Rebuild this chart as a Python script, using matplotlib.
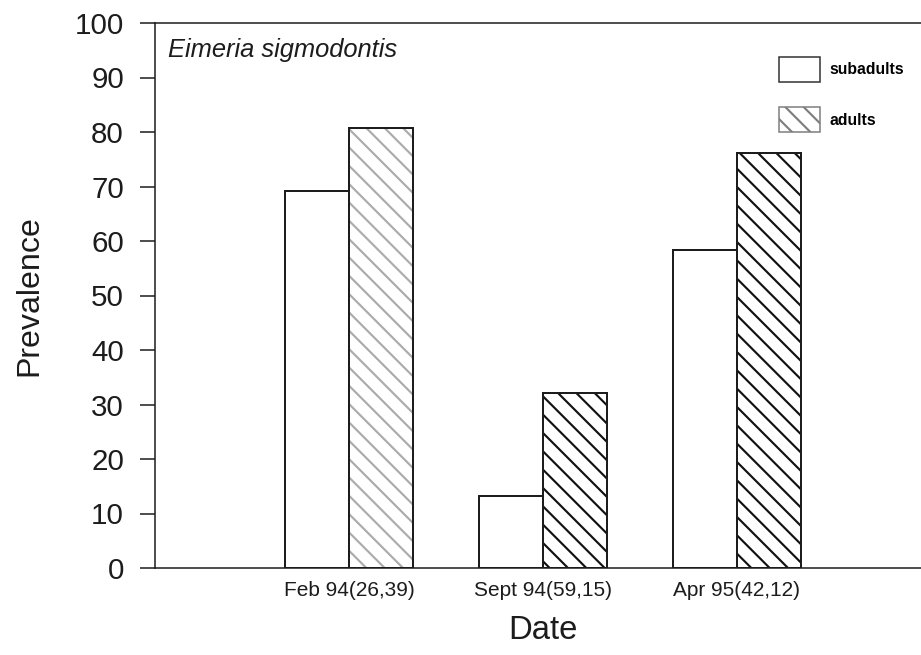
import numpy as np
import matplotlib
matplotlib.use("Agg")
import matplotlib.pyplot as plt

# prevalence of Eimeria sigmodontis by sampling date (n subadults, n adults)
dates = ["Feb 94(26,39)", "Sept 94(59,15)", "Apr 95(42,12)"]
subadults = [69.2, 13.2, 58.3]
adults = [80.7, 32.1, 76.1]
# the first sampling's adult hatch was printed lighter
adult_hatch_colors = ["#ababab", "#111111", "#111111"]

plt.rcParams["font.family"] = ["Liberation Sans", "DejaVu Sans"]
plt.rcParams["hatch.linewidth"] = 1.4

DPI = 110
fig = plt.figure(figsize=(922 / DPI, 655 / DPI), dpi=DPI)
ax = fig.add_axes([155 / 922, 1 - 568 / 655, 776 / 922, 545 / 655])

ink = "#1c1c1c"
x = np.arange(1, len(dates) + 1)
w = 0.33

ax.bar(x - w / 2, subadults, w, color="white", edgecolor=ink,
       linewidth=1.3, label="subadults", zorder=2)
# hatch drawn first with its own colour, outline on top
for xi, v, hc in zip(x, adults, adult_hatch_colors):
    ax.bar(xi + w / 2, v, w, color="white", edgecolor=hc, linewidth=0,
           hatch="\\\\", zorder=2)
ax.bar(x + w / 2, adults, w, fill=False, edgecolor=ink, linewidth=1.3,
       zorder=3)

# legend proxies
h_sub = plt.Rectangle((0, 0), 1, 1, facecolor="white", edgecolor="#333333",
                      linewidth=1.0)
h_ad = plt.Rectangle((0, 0), 1, 1, facecolor="white", edgecolor="#7f7f7f",
                     linewidth=1.0, hatch="\\\\")
leg = ax.legend([h_sub, h_ad], ["subadults", "adults"],
                loc="upper left", bbox_to_anchor=(779 / 922, 1 - 57 / 655),
                bbox_transform=fig.transFigure, frameon=False,
                prop={"size": 10.3, "weight": "bold"},
                handlelength=2.6, handleheight=2.07, handletextpad=0.6,
                labelspacing=1.6, borderpad=0, borderaxespad=0)

ax.set_xlim(0, 4)
ax.set_ylim(0, 100)
ax.set_yticks(np.arange(0, 101, 10))
ax.set_xticks(x)
ax.set_xticklabels(dates, fontsize=13.7)
ax.tick_params(axis="x", length=0, pad=8.5, colors=ink)
ax.tick_params(axis="y", direction="out", length=9.8, width=1.0, pad=10.5,
               labelsize=19.3, colors=ink)
for sp in ax.spines.values():
    sp.set_linewidth(1.0)
    sp.set_color(ink)

ax.set_ylabel("Prevalence", fontsize=21, color=ink)
ax.yaxis.set_label_coords(-0.142, 0.5)
ax.set_xlabel("Date", fontsize=21.5, color=ink)
ax.xaxis.set_label_coords(0.5, -0.086)

ax.text(0.0168, 0.938, "Eimeria sigmodontis", transform=ax.transAxes,
        fontsize=16.7, fontstyle="italic", va="baseline", color=ink)

fig.savefig("out.png", dpi=DPI)
